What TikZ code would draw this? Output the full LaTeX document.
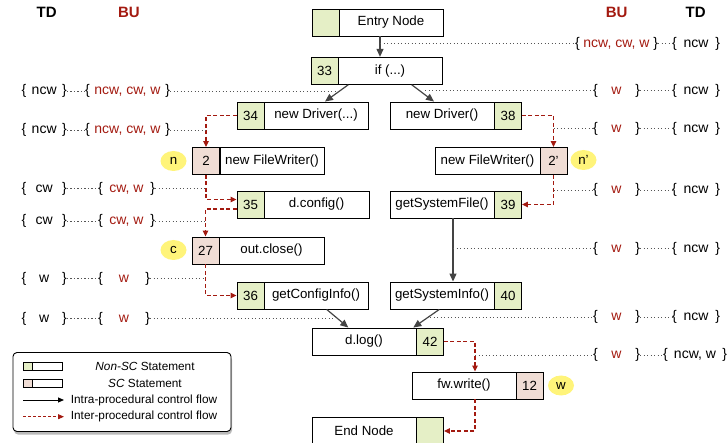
\documentclass[tikz,border=0pt]{standalone}
\usepackage{fontspec}
\setmainfont{Liberation Sans}
\usetikzlibrary{arrows.meta,shapes.geometric,shadows,calc}
\definecolor{cgreen}{HTML}{E5EFC6}
\definecolor{cpink}{HTML}{F0DDD5}
\definecolor{cred}{HTML}{A31A10}
\definecolor{cgray}{HTML}{444444}
\definecolor{cdot}{HTML}{555555}
\definecolor{cyellow}{HTML}{FFF47A}
\newcommand{\nodefont}{\fontsize{13.3}{15}\selectfont}
\newcommand{\labfont}{\fontsize{14}{16}\selectfont}
\newcommand{\legfont}{\fontsize{11.8}{14}\selectfont}
\newcommand{\brl}[2]{\makebox[#1pt]{\{\hfill#2\hfill\}}}
\newcommand{\rd}[1]{\textcolor{cred}{#1}}
\tikzset{
  mainbox/.style={draw=black, line width=0.9pt, fill=white, minimum height=27pt, minimum width=104pt, inner sep=0pt, font=\nodefont},
  gcell/.style={mainbox, fill=cgreen, minimum width=27pt},
  pcell/.style={mainbox, fill=cpink, minimum width=27pt},
  flow/.style={draw=cgray, line width=1.2pt, -{Triangle[length=8pt,width=7pt]}},
  iflow/.style={draw=cred, line width=1.1pt, dash pattern=on 4pt off 2.5pt, -{Triangle[length=6pt,width=5.5pt]}},
  dots/.style={draw=cdot, line width=0.7pt, dash pattern=on 1.2pt off 2.3pt},
  hl/.style={ellipse, fill=cyellow, minimum width=26pt, minimum height=20pt, inner sep=0pt, font=\nodefont},
  lab/.style={inner sep=0pt, font=\labfont},
  hdr/.style={inner sep=0pt, font=\fontsize{15}{17}\selectfont\bfseries},
}
\begin{document}
\begin{tikzpicture}[x=1pt,y=-1pt]
\useasboundingbox (0,0) rectangle (728,443);
% headers
\node[hdr] (h1) at (46.7,12) {TD};
\node[hdr, text=cred] (h2) at (129,12) {BU};
\node[hdr, text=cred] (h3) at (616.7,12) {BU};
\node[hdr] (h4) at (695.7,12) {TD};
% statement nodes
\node[gcell] (entryN) at (325.5,22.5) {};
\node[mainbox] (entryM) at (391,22.5) {Entry Node};
\node[gcell] (ifN) at (324.5,70.8) {33};
\node[mainbox] (ifM) at (390,70.8) {if (...)};
\node[gcell] (d1N) at (250.5,115.5) {34};
\node[mainbox] (d1M) at (316,115.5) {new Driver(...)};
\node[mainbox] (d2M) at (442,115.5) {new Driver()};
\node[gcell] (d2N) at (508,115.5) {38};
\node[pcell] (fw1N) at (206,161) {2};
\node[mainbox] (fw1M) at (272,161) {new FileWriter()};
\node[mainbox, minimum width=105pt] (fw2M) at (487.5,161) {new FileWriter()};
\node[pcell] (fw2N) at (553.5,161) {2'};
\node[gcell] (dcN) at (250.5,204.5) {35};
\node[mainbox, minimum width=105pt] (dcM) at (316.5,204.5) {d.config()};
\node[mainbox] (gsfM) at (442,204.5) {getSystemFile()};
\node[gcell] (gsfN) at (508,204.5) {39};
\node[pcell] (ocN) at (205.5,250.5) {27};
\node[mainbox, minimum width=105pt] (ocM) at (271.5,250.5) {out.close()};
\node[gcell] (gciN) at (250.5,295.5) {36};
\node[mainbox] (gciM) at (316,295.5) {getConfigInfo()};
\node[mainbox] (gsiM) at (442,295.5) {getSystemInfo()};
\node[gcell] (gsiN) at (508,295.5) {40};
\node[mainbox] (dlM) at (364,341.5) {d.log()};
\node[gcell] (dlN) at (430,341.5) {42};
\node[mainbox] (fwwM) at (464,385.5) {fw.write()};
\node[pcell] (fwwN) at (529.5,385.5) {12};
\node[mainbox] (endM) at (364,431) {End Node};
\node[gcell] (endN) at (430,431) {};
% highlights
\node[hl] (hn) at (173.5,161) {n};
\node[hl] (hc) at (173.5,250) {c};
\node[hl] (hn2) at (583.5,160) {n'};
\node[hl] (hw) at (561,385.5) {w};
% intra-procedural flow
\draw[flow] ([xshift=-11pt]entryM.south) -- ([xshift=-10pt]ifM.north);
\draw[flow] ([xshift=-41.7pt]ifM.south) -- ([xshift=9pt]d1M.north);
\draw[flow] ([xshift=21.7pt]ifM.south) -- ([xshift=-8pt]d2M.north);
\draw[flow] ([xshift=11pt]gsfM.south) -- ([xshift=11pt]gsiM.north);
\draw[flow] ([xshift=10.7pt]gciM.south) -- ([xshift=-15.7pt]dlM.north);
\draw[flow] ([xshift=-2.7pt]gsiM.south) -- ([xshift=49.3pt]dlM.north);
% inter-procedural flow
\draw[iflow] (d1N.west) -| (fw1N.north);
\draw[iflow] (fw1N.south) |- ([yshift=5pt]dcN.west);
\draw[iflow] ([yshift=-4.5pt]dcN.west) -| (ocN.north);
\draw[iflow] (ocN.south) |- (gciN.west);
\draw[iflow] (d2N.east) -| (fw2N.north);
\draw[iflow] (fw2N.south) |- (gsfN.east);
\coordinate (k1) at (475,341.5);
\draw[iflow] (dlN.east) -| (k1 |- fwwM.north);
\draw[iflow] (k1 |- fwwM.south) |- (endN.east);
% right annotations
\node[lab] (rb1) at (616.5,43.5) {\brl{83}{\rd{ncw, cw, w}}};
\node[lab] (rt1) at (696,43.5) {\brl{48}{ncw}};
\coordinate (rs1) at (380,43.5);
\node[lab] (rb2) at (616.5,90.5) {\brl{47}{\rd{w}}};
\node[lab] (rt2) at (696,90.5) {\brl{48}{ncw}};
\coordinate (rs2) at (425,90.5);
\node[lab] (rb3) at (616.5,128.5) {\brl{47}{\rd{w}}};
\node[lab] (rt3) at (696,128.5) {\brl{48}{ncw}};
\coordinate (rs3) at (553.5,128.5);
\node[lab] (rb4) at (616.5,190) {\brl{47}{\rd{w}}};
\node[lab] (rt4) at (696,190) {\brl{48}{ncw}};
\coordinate (rs4) at (553.5,190);
\node[lab] (rb5) at (616.5,248.5) {\brl{47}{\rd{w}}};
\node[lab] (rt5) at (696,248.5) {\brl{48}{ncw}};
\coordinate (rs5) at (453,248.5);
\node[lab] (rb6) at (616.5,317) {\brl{47}{\rd{w}}};
\node[lab] (rt6) at (696,317) {\brl{48}{ncw}};
\coordinate (rs6) at (430,317);
\node[lab] (rb7) at (616.5,355) {\brl{47}{\rd{w}}};
\node[lab] (rt7) at (695,355) {\brl{64}{ncw, w}};
\coordinate (rs7) at (475,355);
\foreach \i in {1,...,7}{
  \draw[dots] (rs\i) -- (rb\i.west);
  \draw[dots] (rb\i.east) -- (rt\i.west);
}
% left annotations
\node[lab] (lt1) at (44.2,91) {\brl{45}{ncw}};
\node[lab] (lb1) at (127.5,91) {\brl{85}{\rd{ncw, cw, w}}};
\coordinate (le1) at (337,91);
\node[lab] (lt2) at (44.2,130) {\brl{45}{ncw}};
\node[lab] (lb2) at (127.5,130) {\brl{85}{\rd{ncw, cw, w}}};
\coordinate (le2) at (206,130);
\node[lab] (lt3) at (44.2,188.5) {\brl{45}{cw}};
\node[lab] (lb3) at (126.5,188.5) {\brl{57}{\rd{cw, w}}};
\coordinate (le3) at (206,188.5);
\node[lab] (lt4) at (44.2,221) {\brl{45}{cw}};
\node[lab] (lb4) at (126.5,221) {\brl{57}{\rd{cw, w}}};
\coordinate (le4) at (206,221);
\node[lab] (lt5) at (44.2,278.5) {\brl{45}{w}};
\node[lab] (lb5) at (124,278.5) {\brl{52}{\rd{w}}};
\coordinate (le5) at (206,278.5);
\node[lab] (lt6) at (44.2,318.5) {\brl{45}{w}};
\node[lab] (lb6) at (124,318.5) {\brl{52}{\rd{w}}};
\coordinate (le6) at (335,318.5);
\foreach \i in {1,...,6}{
  \draw[dots] (lt\i.east) -- (lb\i.west);
  \draw[dots] (lb\i.east) -- (le\i);
}
% legend
\node[draw=black, line width=0.9pt, fill=white, rounded corners=4pt, minimum width=218pt, minimum height=79pt, inner sep=0pt,
  drop shadow={shadow xshift=1pt, shadow yshift=-3pt, opacity=0.45, fill=black!60}] (legend) at (122,392) {};
\node[draw=black, line width=0.8pt, fill=white, minimum width=39pt, minimum height=8.5pt, inner sep=0pt] (lg1) at (42.8,366.5) {};
\node[draw=black, line width=0.8pt, fill=cgreen, minimum width=9pt, minimum height=8.5pt, inner sep=0pt] (lg1g) at (27.8,366.5) {};
\node[font=\legfont, inner sep=0pt] (lt1x) at (145,366) {\textit{Non-SC} Statement};
\node[draw=black, line width=0.8pt, fill=white, minimum width=39pt, minimum height=8.5pt, inner sep=0pt] (lg2) at (42.8,383.3) {};
\node[draw=black, line width=0.8pt, fill=cpink, minimum width=9pt, minimum height=8.5pt, inner sep=0pt] (lg2p) at (27.8,383.3) {};
\node[font=\legfont, inner sep=0pt] (lt2x) at (145,383) {\textit{SC} Statement};
\coordinate (la1) at (23,400);
\coordinate (la2) at (64,400);
\draw[black, line width=0.9pt, -{Triangle[length=6pt,width=5pt]}] (la1) -- (la2);
\node[font=\legfont, inner sep=0pt, anchor=west] (lt3x) at (70.7,400) {Intra-procedural control flow};
\coordinate (lb1c) at (23,416.7);
\coordinate (lb2c) at (64,416.7);
\draw[draw=cred, line width=0.9pt, dash pattern=on 3pt off 2pt, -{Triangle[length=6pt,width=5pt]}] (lb1c) -- (lb2c);
\node[font=\legfont, inner sep=0pt, anchor=west] (lt4x) at (70.7,416.7) {Inter-procedural control flow};
\end{tikzpicture}
\end{document}
